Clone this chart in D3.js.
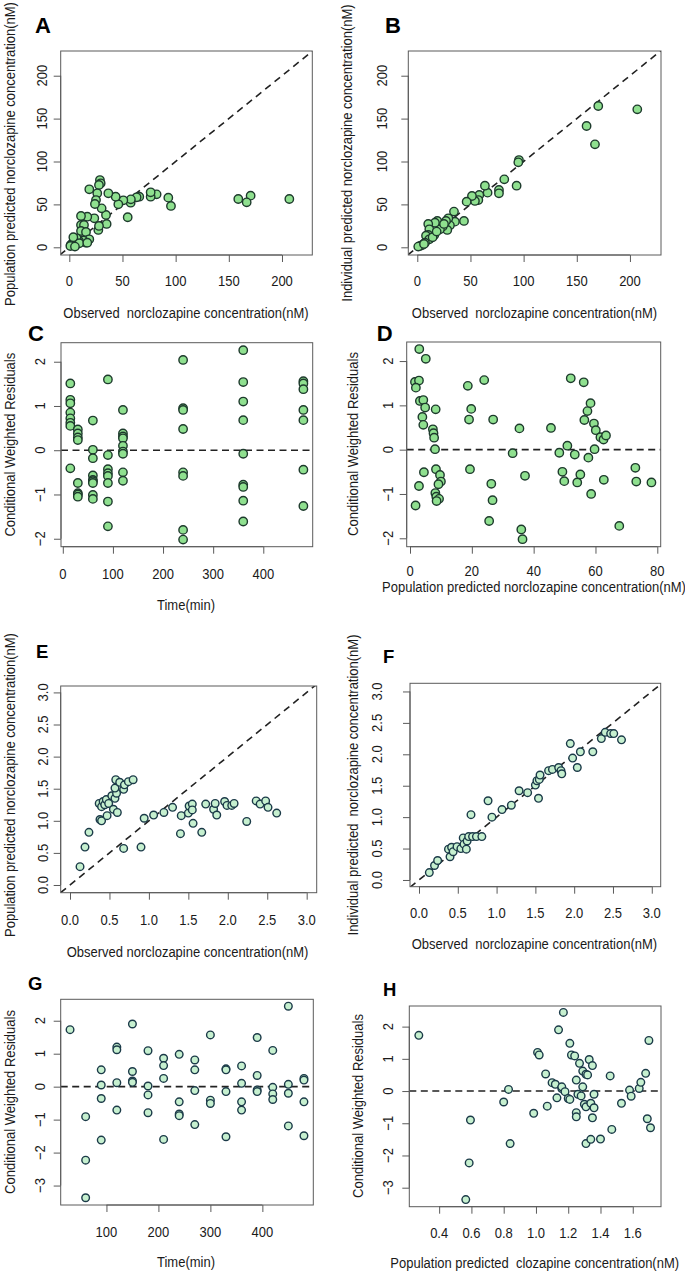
<!DOCTYPE html>
<html><head><meta charset="utf-8">
<script src="https://cdn.jsdelivr.net/npm/d3@7"></script>
<style>
body{margin:0;background:#fff}
text{font-family:"Liberation Sans",Arial,sans-serif;fill:#1a1a1a;white-space:pre}
</style>
</head><body>
<svg id="chart" width="685" height="1272"></svg>
<script>
// ---------------- DATA ----------------
// Panel A: observed vs population predicted norclozapine (nM)
const aObs  = [206.9,170.5,166.8,158.9,95.6,93.1,82.1,76.5,76.5,65.8,63.3,57.7,57.9,54.9,50.8,46.1,43.6,36.7,35.1,34.5,30.4,28.8,29.5,27.9,26.3,25.1,24.1,23.5,27.3,27.9,18.8,16.9,11,11,13.8,11,15.7,18.8,15.7,13.2,9.1,6.3,4.4,3.1,1.3,1.0,6.9,3.8,9.4,5.3,16.9];
const aPred = [56.3,60.2,52.4,56.3,48.2,57.9,61.7,59,64.1,59,58.3,52,55.9,35,54.8,50.1,59,62.9,27.2,37.7,45.4,78.4,74.6,72.6,62.9,55.1,50.5,33.8,20.2,24.9,67.6,35.7,36.5,26,26,19,17.9,9.3,5.4,7.8,7.4,3.5,8.5,4.7,2.7,1.5,10.5,11.7,4.7,0.8,5.4];
// Panel B: observed vs individual predicted norclozapine (nM)
const bObs  = [206.9,170.2,159.2,167.1,95.6,95,93.4,81.8,76.8,76.8,66.1,63.6,58.3,57.4,54.2,51.4,46.4,43.9,34.5,35.4,30.7,29.2,27,28.2,23.8,21.3,18.8,16.6,16,10.3,11.3,10.3,8.2,11.3,7.2,4.7,2.5,0.9,6.3,14.4,18.2,25.1];
const bPred = [160.8,164.7,141.4,120,101.7,99,71.8,79.2,66.8,62.9,63.7,71.8,61,55.1,54,59.8,53.2,30.7,41.6,29.9,25.6,33.8,30.7,20.2,24.1,21,30.7,28.7,14.4,27.2,21,14.4,13.6,9.3,5.4,2.7,1.6,0.8,3.9,11.7,18.3,27.2];
// Panel C: time (min) vs CWRES
const cTime = [15,15,15,15,15,15,15,15, 30,30,30,30,30,30,30,30, 60,60,60,60,60,60,60,60,60, 90,90,90,90,90,90,90,90, 120,120,120,120,120,120,120,120,120, 240,240,240,240,240,240,240,240, 360,360,360,360,360,360,360,360,360, 480,480,480,480,480,480,480];
const cRes  = [1.51,1.14,1.06,0.85,0.72,0.62,0.55,-0.41, 0.47,0.38,0.29,0.23,-0.74,-0.97,-1.0,-1.05, 0.67,0.01,-0.18,-0.57,-0.67,-0.7,-0.74,-1.01,-1.1, 1.60,-0.11,-0.43,-0.52,-0.58,-0.74,-1.16,-1.72, 0.91,0.38,0.31,0.27,0.1,-0.03,-0.08,-0.5,-0.69, 2.04,0.95,0.91,0.48,-0.5,-0.58,-1.80,-2.02, 2.26,1.54,1.10,0.68,-0.08,-0.78,-0.83,-1.14,-1.61, 1.56,1.51,1.38,0.91,0.68,-0.44,-1.26];
// Panel D: population predicted norclozapine vs CWRES
const dPred = [3.0,5.1,1.6,2.9,1.9,3.2,4.3,4.9,4.0,4.3, 8.3,7.4,7.6,7.8,8.1,8.4,4.5,2.9,1.8,9.7, 10.0,9.2,8.2,8.5,9.4,8.6,18.7,19.8,19.1,19.4, 24.0,26.9,26.3,26.7,25.6,33.2,35.4,37.2,36.0,36.4, 45.6,48.3,49.3,49.9,50.9,52.0,53.3,54.1,55.1,56.2, 56.4,57.4,58.4,57.7,58.6,59.5,60.1,59.7,61.6,62.6, 63.4,62.7,67.7,72.9,73.2,78.1];
const dRes  = [2.27,2.05,1.53,1.56,1.40,1.10,1.12,0.95,0.74,0.56, 0.91,0.46,0.37,0.27,0.01,-0.44,-0.51,-0.82,-1.26,-0.57, -0.72,-0.78,-0.98,-1.06,-1.11,-1.16,1.44,0.92,0.68,-0.44, 1.57,0.68,-0.77,-1.14,-1.61,-0.08,0.48,-0.59,-1.80,-2.02, 0.49,-0.07,-0.50,-0.71,0.09,1.61,-0.11,-0.74,-0.56,1.52, 0.67,0.87,1.05,-0.18,-1.0,0.59,0.44,0.01,0.28,0.23, 0.32,-0.68,-1.72,-0.41,-0.72,-0.74];
// Panel E: observed vs population predicted norclozapine (nM)
const eObs  = [0.127,0.19,0.24,0.38,0.40,0.37,0.40,0.42,0.44,0.46, 0.47,0.49,0.53,0.55,0.57,0.59,0.57,0.58,0.60,0.63, 0.68,0.69,0.74,0.80,0.68,0.90,0.94,1.06,1.19,1.30, 1.40,1.41,1.50,1.51,1.55,1.55,1.56,1.67,1.72,1.82, 1.84,1.86,1.96,1.99,2.05,2.08,2.24,2.36,2.41,2.48, 2.51,2.62];
const ePred = [0.286,0.59,0.82,1.02,1.0,1.27,1.22,1.30,1.25,1.33, 1.08,1.27,1.39,1.18,1.35,1.43,1.51,1.64,1.13,1.60, 1.49,1.56,1.61,1.64,0.57,0.59,1.04,1.09,1.13,1.21, 0.80,1.08,1.12,1.23,1.26,1.17,0.96,0.82,1.26,1.18, 1.27,1.09,1.30,1.24,1.24,1.27,0.99,1.31,1.26,1.31, 1.21,1.12];
// Panel F: observed vs individual predicted norclozapine (nM)
const fObs  = [0.133,0.20,0.24,0.38,0.40,0.42,0.44,0.49,0.54,0.57, 0.58,0.61,0.62,0.64,0.67,0.69,0.74,0.81,0.89,0.94, 1.07,1.19,1.29,1.40,1.50,1.52,1.54,1.55,1.56,1.67, 1.72,1.80,1.83,1.84,1.95,1.98,2.04,2.08,2.24,2.35, 2.40,2.47,2.51,2.61];
const fPred = [0.117,0.23,0.31,0.49,0.37,0.52,0.45,0.53,0.50,0.67, 0.57,0.49,0.62,0.69,1.04,0.69,0.69,0.69,1.26,1.0, 1.12,1.19,1.42,1.39,1.51,1.58,1.30,1.60,1.67,1.74, 1.76,1.79,1.74,1.69,2.17,1.94,1.79,2.04,2.04,2.25, 2.35,2.33,2.33,2.23];
// Panel G: time (min) vs CWRES
const gTime = [30, 60,60,60, 90,90,90,90, 120,120,120,120, 150,150,150,150, 180,180,180,180, 210,210,210,210, 240,240,240,240, 270,270,270,270, 300,300,300, 330,330,330,330, 360,360,360,360, 390,390,390,390, 420,420,420,420, 450,450,450,450, 480,480,480,480];
const gRes  = [1.73, -0.91,-2.23,-3.37, 0.51,0.05,-0.36,-1.62, 1.20,1.12,0.12,-0.71, 1.90,0.46,0.17,0.13, 1.09,0.02,-0.25,-0.79, 0.86,0.64,0.25,-1.60, 0.98,-0.46,-0.83,-0.88, 0.81,0.51,-0.12,-1.15, 1.57,-0.41,-0.51, 0.54,0.51,-0.15,-1.52, 0.63,0.10,-0.46,-0.71, 1.49,0.34,-0.10,-0.15, 1.10,-0.02,-0.22,-0.39, 2.44,0.07,-0.20,-1.19, 0.25,0.20,-0.46,-1.49];
// Panel H: population predicted clozapine vs CWRES
const hPred = [0.274,0.594,0.586,0.565,0.80,0.83,0.84,0.986,1.01,1.02, 1.06,1.07,1.10,1.12,1.13,1.14,1.16,1.16,1.17,1.18, 1.20,1.21,1.21,1.22,1.24,1.25,1.25,1.25,1.26,1.27, 1.28,1.29,1.29,1.30,1.31,1.31,1.31,1.32,1.34,1.33, 1.34,1.35,1.35,1.36,1.36,1.40,1.46,1.47,1.53,1.58, 1.59,1.64,1.65,1.68,1.69,1.71,1.70];
const hRes  = [1.73,-0.90,-2.23,-3.37,-0.34,0.05,-1.63,-0.69,1.20,1.12, 0.53,-0.47,0.26,0.21,-0.21,1.90,0.08,0.13,2.44,-0.02, -0.23,-0.26,1.48,1.12,1.09,0.34,-0.67,-0.80,-0.10,0.86, -0.15,0.62,0.13,-0.41,-0.49,0.52,-1.63,0.50,-1.50,0.98, -0.38,0.79,-0.83,-0.52,-0.10,-1.49,0.47,-1.19,-0.38,0.03, -0.16,0.08,0.27,0.55,-0.86,-1.14,1.57];

// Tick values / labels
const ticksConc = [0,50,100,150,200];
const ticksTime = [0,100,200,300,400];
const ticksTimeG = [100,200,300,400];
const ticksRes = [-2,-1,0,1,2];
const ticksResG = [-3,-2,-1,0,1,2];
const ticksPredD = [0,20,40,60,80];
const ticksSmall = [0,0.5,1,1.5,2,2.5,3];
const ticksClz = [0.4,0.6,0.8,1.0,1.2,1.4,1.6];

// ---------------- LAYOUT ----------------
const svg = d3.select("#chart");
const greenA = {fill:"#8fe08f", stroke:"#1d3a2c", r:4.2};
const greenE = {fill:"#c6f0cf", stroke:"#1b3a48", r:3.8};

const panels = [
 {label:"A", lab:[35,33,22], box:[60.7,51,312.3,255], xd:[-8.09,228.5], yd:[-8.97,228.8],
  xs:aObs, ys:aPred, xt:ticksConc, yt:ticksConc, fmt:d3.format("d"), yfmt:d3.format("d"), ref:"diag", style:greenA,
  xtcy:281, xtitle:"Observed  norclozapine concentration(nM)", xtb:318, xtcx:186,
  ytcx:41.3, ytitle:"Population predicted norclozapine concentration(nM)", ytb:14.5, ytcy:154},
 {label:"B", lab:[385,33,22], box:[408.3,51,661,255], xd:[-8.46,229.2], yd:[-8.97,228.8],
  xs:bObs, ys:bPred, xt:ticksConc, yt:ticksConc, fmt:d3.format("d"), yfmt:d3.format("d"), ref:"diag", style:greenA,
  xtcy:281, xtitle:"Observed  norclozapine concentration(nM)", xtb:318, xtcx:534.5,
  ytcx:381.3, ytitle:"Individual predicted norclozapine concentration(nM)", ytb:352, ytcy:153},
 {label:"C", lab:[28,341,22], box:[61,342.7,312.7,546.7], xd:[-3.6,498.6], yd:[-2.18,2.43],
  xs:cTime, ys:cRes, xt:ticksTime, yt:ticksRes, fmt:d3.format("d"), yfmt:d3.format("d"), ref:"zero", style:greenA,
  xtcy:574, xtitle:"Time(min)", xtb:610, xtcx:186,
  ytcx:40, ytitle:"Conditional Weighted Residuals", ytb:14.5, ytcy:444.7},
 {label:"D", lab:[376.7,341,22], box:[406.7,342,660.7,546.7], xd:[-1.07,81.1], yd:[-2.19,2.43],
  xs:dPred, ys:dRes, xt:ticksPredD, yt:ticksRes, fmt:d3.format("d"), yfmt:d3.format("d"), ref:"zero", style:greenA,
  xtcy:571, xtitle:"Population predicted norclozapine concentration(nM)", xtb:592, xtcx:534,
  ytcx:388, ytitle:"Conditional Weighted Residuals", ytb:358, ytcy:444},
 {label:"E", lab:[36,658,18.5], box:[60.7,686,316.7,892.7], xd:[-0.118,3.127], yd:[-0.12,3.10],
  xs:eObs, ys:ePred, xt:ticksSmall, yt:ticksSmall, fmt:d3.format(".1f"), yfmt:d3.format(".1f"), ref:"diag", style:greenE,
  xtcy:919.3, xtitle:"Observed norclozapine concentration(nM)", xtb:956.5, xtcx:187.5,
  ytcx:43, ytitle:"Population predicted norclozapine concentration(nM)", ytb:14.5, ytcy:785},
 {label:"F", lab:[383,663,18.5], box:[410,683.3,660.7,886.7], xd:[-0.116,3.115], yd:[-0.107,3.13],
  xs:fObs, ys:fPred, xt:ticksSmall, yt:ticksSmall, fmt:d3.format(".1f"), yfmt:d3.format(".1f"), ref:"diag", style:greenE,
  xtcy:913, xtitle:"Observed  norclozapine concentration(nM)", xtb:949, xtcx:534.4,
  ytcx:376.7, ytitle:"Individual predicted  norclozapine concentration(nM)", ytb:358, ytcy:785},
 {label:"G", lab:[28,990,18.5], box:[60.7,999.3,313.3,1205], xd:[12,498], yd:[-3.59,2.65],
  xs:gTime, ys:gRes, xt:ticksTimeG, yt:ticksResG, fmt:d3.format("d"), yfmt:d3.format("d"), ref:"zero", style:greenE,
  xtcy:1231.7, xtitle:"Time(min)", xtb:1267, xtcx:186,
  ytcx:40, ytitle:"Conditional Weighted Residuals", ytb:14.5, ytcy:1102},
 {label:"H", lab:[383,996,18.5], box:[409.3,1006,661,1206.7], xd:[0.215,1.775], yd:[-3.59,2.64],
  xs:hPred, ys:hRes, xt:ticksClz, yt:ticksResG, fmt:d3.format(".1f"), yfmt:d3.format("d"), ref:"zero", style:greenE,
  xtcy:1232.3, xtitle:"Population predicted  clozapine concentration(nM)", xtb:1268, xtcx:534.7,
  ytcx:388, ytitle:"Conditional Weighted Residuals", ytb:363, ytcy:1106}
];

const FS = 13, SY = 1.14, TICKLEN = 7, AXC = "#5a5a5a";

panels.forEach((p, i) => {
  const [x0,y0,x1,y1] = p.box;
  const x = d3.scaleLinear().domain(p.xd).range([x0,x1]);
  const y = d3.scaleLinear().domain(p.yd).range([y1,y0]);
  const g = svg.append("g");

  const cid = "clip"+i;
  svg.append("clipPath").attr("id",cid).append("rect")
    .attr("x",x0).attr("y",y0).attr("width",x1-x0).attr("height",y1-y0);

  // reference line
  const ref = g.append("g").attr("clip-path",`url(#${cid})`);
  if (p.ref === "diag") {
    const lo = Math.min(p.xd[0],p.yd[0]), hi = Math.max(p.xd[1],p.yd[1]);
    ref.append("line").attr("x1",x(lo)).attr("y1",y(lo)).attr("x2",x(hi)).attr("y2",y(hi))
      .attr("stroke","#222").attr("stroke-width",1.6).attr("stroke-dasharray","7,5");
  } else {
    ref.append("line").attr("x1",x0).attr("x2",x1).attr("y1",y(0)).attr("y2",y(0))
      .attr("stroke","#222").attr("stroke-width",1.6).attr("stroke-dasharray","7,4.5");
  }

  // points
  g.append("g").selectAll("circle").data(d3.range(p.xs.length)).join("circle")
    .attr("cx",j=>x(p.xs[j])).attr("cy",j=>y(p.ys[j])).attr("r",p.style.r)
    .attr("fill",p.style.fill).attr("stroke",p.style.stroke).attr("stroke-width",1.4);

  // box
  g.append("rect").attr("x",x0).attr("y",y0).attr("width",x1-x0).attr("height",y1-y0)
    .attr("fill","none").attr("stroke",AXC).attr("stroke-width",1);

  // x axis
  const xa = d3.axisBottom(x).tickValues(p.xt).tickSize(TICKLEN).tickFormat("");
  const gx = g.append("g").attr("transform",`translate(0,${y1})`).call(xa);
  gx.select(".domain").attr("stroke",AXC).attr("d",`M${x(p.xt[0])},0H${x(p.xt[p.xt.length-1])}`);
  gx.selectAll(".tick line").attr("stroke",AXC);
  g.append("g").selectAll("text").data(p.xt).join("text")
    .attr("transform",d=>`translate(${x(d)},${p.xtcy + 0.36*FS*SY}) scale(1,${SY})`)
    .attr("text-anchor","middle").attr("font-size",FS).text(d=>p.fmt(d));

  // y axis
  const ya = d3.axisLeft(y).tickValues(p.yt).tickSize(TICKLEN).tickFormat("");
  const gy = g.append("g").attr("transform",`translate(${x0},0)`).call(ya);
  gy.select(".domain").attr("stroke",AXC).attr("d",`M0,${y(p.yt[0])}V${y(p.yt[p.yt.length-1])}`);
  gy.selectAll(".tick line").attr("stroke",AXC);
  g.append("g").selectAll("text").data(p.yt).join("text")
    .attr("transform",d=>`translate(${p.ytcx + 0.36*FS*SY},${y(d)}) rotate(-90) scale(1,${SY})`)
    .attr("text-anchor","middle").attr("font-size",FS).text(d=>p.yfmt(d));

  // titles
  g.append("text").attr("transform",`translate(${p.xtcx},${p.xtb}) scale(1,${SY})`)
    .attr("text-anchor","middle").attr("font-size",FS).text(p.xtitle);
  g.append("text").attr("transform",`translate(${p.ytb},${p.ytcy}) rotate(-90) scale(1,${SY})`)
    .attr("text-anchor","middle").attr("font-size",FS).text(p.ytitle);

  // panel label
  g.append("text").attr("x",p.lab[0]).attr("y",p.lab[1]).attr("font-size",p.lab[2])
    .attr("font-weight","bold").style("fill","#000").text(p.label);
});
</script>
</body></html>
